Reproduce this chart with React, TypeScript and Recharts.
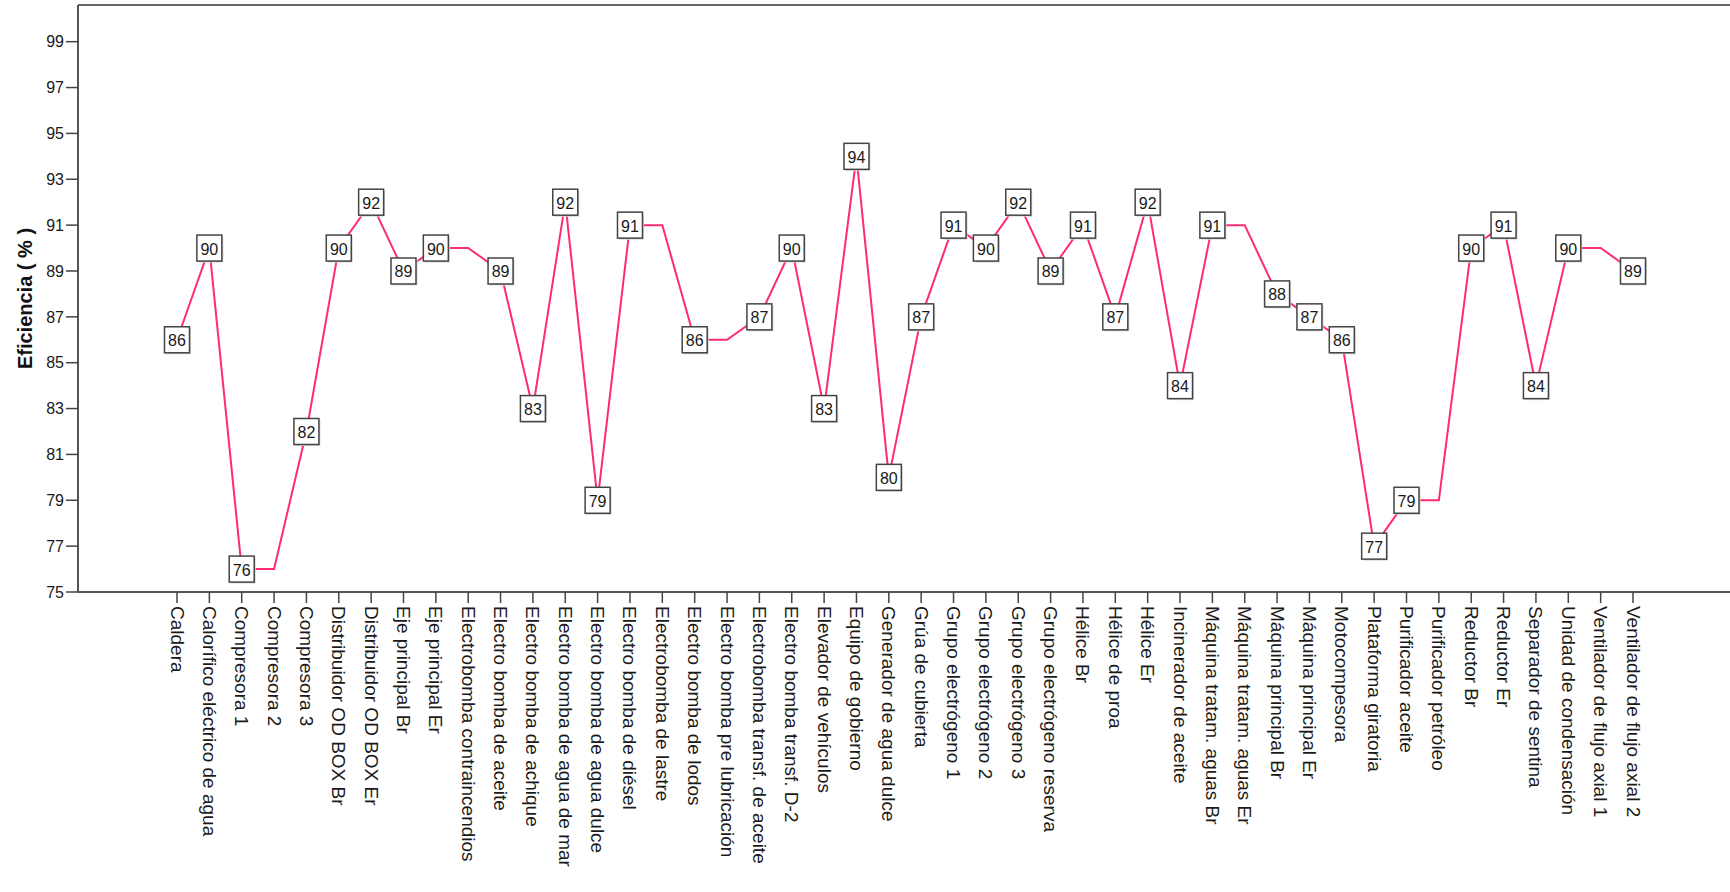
import { LineChart, Line, XAxis, YAxis, ReferenceLine, LabelList } from "recharts";

const categories = [
  "Caldera",
  "Calorífico eléctrico de agua",
  "Compresora 1",
  "Compresora 2",
  "Compresora 3",
  "Distribuidor OD BOX Br",
  "Distribuidor OD BOX Er",
  "Eje principal Br",
  "Eje principal Er",
  "Electrobomba contraincendios",
  "Electro bomba de aceite",
  "Electro bomba de achique",
  "Electro bomba de agua de mar",
  "Electro bomba de agua dulce",
  "Electro bomba de diésel",
  "Electrobomba de lastre",
  "Electro bomba de lodos",
  "Electro bomba pre lubricación",
  "Electrobomba transf. de aceite",
  "Electro bomba transf. D-2",
  "Elevador de vehículos",
  "Equipo de gobierno",
  "Generador de agua dulce",
  "Grúa de cubierta",
  "Grupo electrógeno 1",
  "Grupo electrógeno 2",
  "Grupo electrógeno 3",
  "Grupo electrógeno reserva",
  "Hélice Br",
  "Hélice de proa",
  "Hélice Er",
  "Incinerador de aceite",
  "Máquina tratam. aguas Br",
  "Máquina tratam. aguas  Er",
  "Máquina principal Br",
  "Máquina principal Er",
  "Motocompesora",
  "Plataforma giratoria",
  "Purificador aceite",
  "Purificador petróleo",
  "Reductor Br",
  "Reductor Er",
  "Separador de sentina",
  "Unidad de condensación",
  "Ventilador de flujo axial 1",
  "Ventilador de flujo axial 2",
];

const eficiencia = [
  86, 90, 76, 76, 82, 90, 92, 89, 90, 90, 89, 83, 92, 79, 91, 91, 86, 86, 87, 90, 83, 94, 80,
  87, 91, 90, 92, 89, 91, 87, 92, 84, 91, 91, 88, 87, 86, 77, 79, 79, 90, 91, 84, 90, 90, 89,
];

const yTicks = [75, 77, 79, 81, 83, 85, 87, 89, 91, 93, 95, 97, 99];
const yMin = 75;
const yMax = 100.6;

const data = categories.map((name, i) => ({ name, value: eficiencia[i] }));

const FONT = "Arial, 'Liberation Sans', sans-serif";

function CategoryTick(props: any) {
  const { x, y, payload } = props;
  return (
    <text
      x={0}
      y={0}
      transform={`translate(${x},${y + 1}) rotate(90)`}
      textAnchor="start"
      dominantBaseline="central"
      fontSize={19}
      fontFamily={FONT}
      fill="#1a1a1a"
    >
      {payload.value}
    </text>
  );
}

function ValueBox(props: any) {
  const { x, y, value, index } = props;
  // SPSS drops a label when it repeats the previous one
  if (index > 0 && eficiencia[index - 1] === value) return null;
  const w = 25;
  const h = 26;
  return (
    <g>
      <rect x={x - w / 2 + 1.5} y={y - h / 2 + 1.5} width={w} height={h} fill="#d8d8d8" />
      <rect x={x - w / 2} y={y - h / 2} width={w} height={h} fill="#fff" stroke="#444" strokeWidth={1.5} />
      <text
        x={x}
        y={y + 1}
        textAnchor="middle"
        dominantBaseline="central"
        fontSize={16}
        fontFamily={FONT}
        fill="#1a1a1a"
      >
        {value}
      </text>
    </g>
  );
}

export default function App() {
  return (
    <div style={{ position: "absolute", left: 0, top: 0, background: "#fff" }}>
      <LineChart width={1730} height={892} data={data} margin={{ top: 5, right: 0, left: 0, bottom: 0 }}>
        <ReferenceLine y={yMax} stroke="#666" strokeWidth={2} ifOverflow="extendDomain" />
        <XAxis
          dataKey="name"
          type="category"
          interval={0}
          height={300}
          padding={{ left: 99, right: 97 }}
          tick={<CategoryTick />}
          tickSize={11}
          axisLine={{ stroke: "#555", strokeWidth: 2 }}
          tickLine={{ stroke: "#444", strokeWidth: 1.5 }}
        />
        <YAxis
          type="number"
          domain={[yMin, yMax]}
          ticks={yTicks}
          width={78}
          tickSize={12}
          tickMargin={2}
          allowDataOverflow
          axisLine={{ stroke: "#555", strokeWidth: 2 }}
          tickLine={{ stroke: "#444", strokeWidth: 1.5 }}
          tick={{ fontSize: 16, fontFamily: FONT, fill: "#1a1a1a" }}
          label={{
            content: (p: any) => {
              const vb = p.viewBox || { x: 0, y: 5, width: 78, height: 587 };
              const cx = vb.x + 25;
              const cy = vb.y + vb.height / 2;
              return (
                <text
                  x={cx}
                  y={cy}
                  transform={`rotate(-90, ${cx}, ${cy})`}
                  textAnchor="middle"
                  dominantBaseline="central"
                  fontSize={20}
                  fontWeight="bold"
                  fontFamily={FONT}
                  fill="#111"
                >
                  Eficiencia ( % )
                </text>
              );
            },
          }}
        />
        <Line
          type="linear"
          dataKey="value"
          stroke="#ff2a74"
          strokeWidth={2}
          dot={false}
          activeDot={false}
          isAnimationActive={false}
        >
          <LabelList dataKey="value" content={<ValueBox />} />
        </Line>
      </LineChart>
    </div>
  );
}
